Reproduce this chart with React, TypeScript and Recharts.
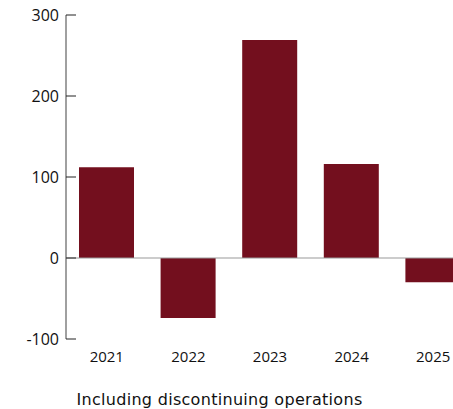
import { BarChart, Bar, XAxis, YAxis, ReferenceLine } from "recharts"

const years = ["2021", "2022", "2023", "2024", "2025"]
const values = [112, -74, 269, 116, -30]
const yTicks = [-100, 0, 100, 200, 300]
const caption = "Including discontinuing operations"

const data = years.map((year, i) => ({ year, value: values[i] }))

const font = "'Open Sans', sans-serif"

function YTick(props: any) {
  const { x, y, payload } = props
  return (
    <g>
      <line x1={x + 7} x2={x + 17} y1={y} y2={y} stroke="#222" strokeWidth={1} />
      <text x={x} y={y} dy="0.36em" textAnchor="end" fontSize={16} fill="#111" fontFamily={font}>
        {payload.value}
      </text>
    </g>
  )
}

export default function App() {
  return (
    <div style={{ position: "fixed", left: 0, top: 0, width: 453, height: 409, overflow: "hidden", background: "#fff" }}>
      <BarChart width={474} height={409} data={data} margin={{ top: 15, right: 0, bottom: 40, left: 0 }}>
        <YAxis
          domain={[-100, 300]}
          ticks={yTicks}
          width={66}
          tickSize={0}
          tickMargin={7}
          tickLine={false}
          axisLine={{ stroke: "#808080", strokeWidth: 1.5 }}
          tick={<YTick />}
        />
        <XAxis
          dataKey="year"
          height={30}
          axisLine={false}
          tickLine={false}
          tickSize={0}
          tickMargin={12}
          tick={{ fontSize: 15, fill: "#111", fontFamily: font }}
        />
        <ReferenceLine y={0} stroke="#999" strokeWidth={1} />
        <Bar dataKey="value" fill="#730F1E" barSize={55} isAnimationActive={false} />
      </BarChart>
      <div
        style={{
          position: "absolute",
          left: 0,
          width: 439,
          top: 390,
          textAlign: "center",
          fontFamily: "'DejaVu Sans', sans-serif",
          fontSize: 16,
          letterSpacing: 0.3,
          color: "#111",
          whiteSpace: "nowrap",
        }}
      >
        {caption}
      </div>
    </div>
  )
}
